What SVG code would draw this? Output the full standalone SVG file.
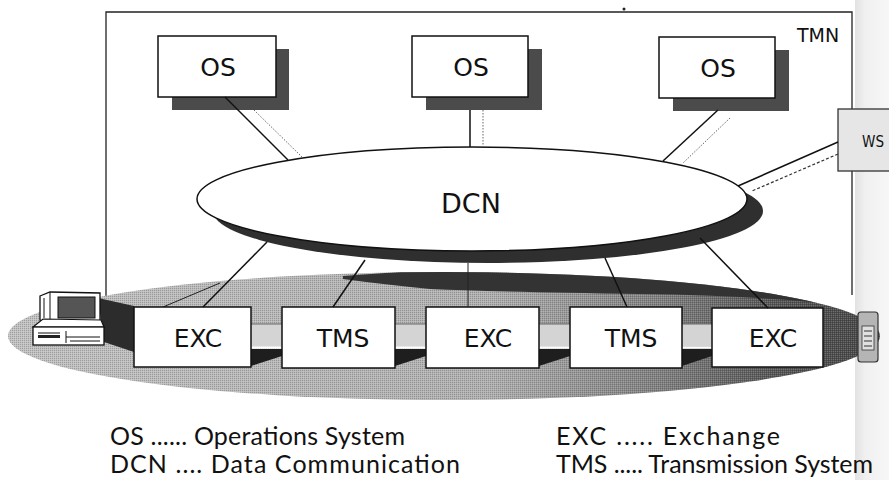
<svg xmlns="http://www.w3.org/2000/svg" width="889" height="480" viewBox="0 0 889 480">
  <defs>
    <style>
      .box{fill:#fff;stroke:#111;stroke-width:1.5}
      .shadow{fill:#4b4b4b}
      .lbl{font-family:"DejaVu Sans","Liberation Sans",sans-serif;fill:#111;text-anchor:middle}
      .legend{font-family:Lato,"Liberation Sans",sans-serif;font-size:25px;fill:#111}
      .link{stroke:#111;stroke-width:1.5;fill:none}
      .thin{stroke:#222;stroke-width:1;fill:none}
      .dotted{stroke:#666;stroke-width:1;stroke-dasharray:1.5 1.5;fill:none}
      .dashed{stroke:#333;stroke-width:1.2;stroke-dasharray:3 2;fill:none}
      .pipe{fill:#d4d4d4}
      .pipeShade{fill:#1e1e1e}
    </style>
    <linearGradient id="plane" x1="0" y1="0" x2="1" y2="0">
      <stop offset="0" stop-color="#c2c2c2"/>
      <stop offset="0.55" stop-color="#b0b0b0"/>
      <stop offset="0.75" stop-color="#808080"/>
      <stop offset="0.88" stop-color="#575757"/>
      <stop offset="1" stop-color="#474747"/>
    </linearGradient>
    <linearGradient id="pageEdge" x1="0" y1="0" x2="1" y2="0">
      <stop offset="0" stop-color="#e2e2e2"/>
      <stop offset="0.3" stop-color="#f0f0f0"/>
      <stop offset="1" stop-color="#f7f7f7"/>
    </linearGradient>
    <!-- halftone screen laid over the shaded plane -->
    <pattern id="screen" width="2" height="2" patternUnits="userSpaceOnUse">
      <rect x="0" y="0" width="1" height="1" fill="#000"/>
      <rect x="1" y="1" width="1" height="1" fill="#fff"/>
    </pattern>
    <clipPath id="planeClip">
      <ellipse cx="444" cy="336" rx="436" ry="64"/>
    </clipPath>
  </defs>

  <rect x="0" y="0" width="889" height="480" fill="#fff"/>
  <rect x="855" y="0" width="34" height="480" fill="url(#pageEdge)"/>

  <!-- TMN boundary -->
  <g id="tmn">
    <path d="M106,298 V12 H852 V295" fill="none" stroke="#222" stroke-width="1.3"/>
    <text class="lbl" x="818" y="42" font-size="19">TMN</text>
    <circle cx="624" cy="9" r="1.5" fill="#222"/>
  </g>

  <!-- network element plane -->
  <g id="plane-base">
    <ellipse cx="444" cy="336" rx="436" ry="64" fill="url(#plane)"/>
    <ellipse cx="444" cy="336" rx="436" ry="64" fill="url(#screen)" opacity="0.18"/>
    <g clip-path="url(#planeClip)">
      <!-- shadow of the DCN cast on the back of the plane -->
      <path d="M343,276 Q520,262 700,266 Q820,272 890,300 L890,312 Q800,296 640,294 Q500,292 430,289 Q380,284 343,279 Z" fill="#333"/>
    </g>
    <!-- shadow left of the first exchange -->
    <path d="M98,298 L134,306 L134,352 L104,342 Z" fill="#2c2c2c"/>
    <path d="M220,283 L163,307" class="thin"/>
  </g>

  <!-- transmission pipes between the exchanges -->
  <g id="pipes">
    <rect class="pipe" x="251" y="324" width="31" height="22"/>
    <rect class="pipe" x="395" y="324" width="31" height="22"/>
    <rect class="pipe" x="539" y="324" width="31" height="22"/>
    <rect class="pipe" x="682" y="324" width="30" height="22"/>
    <path d="M251,324 H282 M395,324 H426 M539,324 H570 M682,324 H712" stroke="#666" stroke-width="1"/>
    <path d="M251,347.5 H282 M395,347.5 H426 M539,347.5 H570 M682,347.5 H712" stroke="#fff" stroke-width="2.5"/>
    <polygon class="pipeShade" points="251,349 282,349 282,356 251,366"/>
    <polygon class="pipeShade" points="395,349 426,349 426,356 395,366"/>
    <polygon class="pipeShade" points="539,349 570,349 570,356 539,366"/>
    <polygon class="pipeShade" points="682,349 712,349 712,356 682,366"/>
  </g>

  <!-- DCN cloud -->
  <g id="dcn">
    <ellipse cx="488" cy="211" rx="275" ry="52" fill="#2f2f2f"/>
    <ellipse cx="472" cy="199" rx="275" ry="52" fill="#fff" stroke="#111" stroke-width="1.5"/>
    <text class="lbl" x="471" y="213" font-size="27">DCN</text>
  </g>

  <!-- operations systems -->
  <g id="os1">
    <rect class="shadow" x="172" y="49" width="117" height="61"/>
    <rect class="box" x="158" y="36" width="118" height="61"/>
    <text class="lbl" x="218" y="76" font-size="25">OS</text>
  </g>
  <g id="os2">
    <rect class="shadow" x="426" y="49" width="116" height="61"/>
    <rect class="box" x="412" y="36" width="116" height="61"/>
    <text class="lbl" x="471" y="76" font-size="25">OS</text>
  </g>
  <g id="os3">
    <rect class="shadow" x="673" y="50" width="116" height="61"/>
    <rect class="box" x="659" y="37" width="116" height="61"/>
    <text class="lbl" x="718" y="77" font-size="25">OS</text>
  </g>

  <!-- workstation -->
  <g id="ws">
    <rect x="838" y="109" width="60" height="62" fill="#e6e6e6" stroke="#333" stroke-width="1.3"/>
    <text x="862" y="147" font-family="'DejaVu Sans','Liberation Sans',sans-serif" font-size="16" fill="#111" textLength="22" lengthAdjust="spacingAndGlyphs">WS</text>
  </g>

  <!-- exchanges and transmission systems -->
  <g id="exc1">
    <rect class="box" x="134" y="307" width="117" height="60"/>
    <text class="lbl" x="198" y="347" font-size="25">EXC</text>
  </g>
  <g id="tms1">
    <rect class="box" x="282" y="307" width="113" height="61"/>
    <text class="lbl" x="343" y="347" font-size="25">TMS</text>
  </g>
  <g id="exc2">
    <rect class="box" x="426" y="307" width="113" height="61"/>
    <text class="lbl" x="488" y="347" font-size="25">EXC</text>
  </g>
  <g id="tms2">
    <rect class="box" x="570" y="307" width="112" height="61"/>
    <text class="lbl" x="631" y="347" font-size="25">TMS</text>
  </g>
  <g id="exc3">
    <rect class="box" x="712" y="308" width="111" height="59"/>
    <text class="lbl" x="773" y="347" font-size="25">EXC</text>
  </g>

  <!-- terminal at the left end of the plane -->
  <g id="terminal">
    <polygon points="40,296 50,292 100,293 100,323 50,324 40,320" fill="#fff" stroke="#111" stroke-width="1.3"/>
    <path d="M50,292 V324 M44,298 V318" stroke="#111" stroke-width="1"/>
    <rect x="58" y="297" width="37" height="21" fill="#555" stroke="#111" stroke-width="1"/>
    <polygon points="33,327 43,319 101,320 104,327" fill="#fff" stroke="#111" stroke-width="1.2"/>
    <rect x="33" y="327" width="71" height="18" fill="#fff" stroke="#111" stroke-width="1.3"/>
    <path d="M38,333 H60 M66,331 V343 M66,337 H100 M70,341 H100" stroke="#111" stroke-width="1"/>
    <rect x="38" y="335" width="22" height="3" fill="#222"/>
  </g>

  <!-- telephone at the right end of the plane -->
  <g id="phone">
    <rect x="858" y="312" width="20" height="50" rx="3" fill="#b5b5b5" stroke="#333" stroke-width="1.2"/>
    <rect x="862" y="326" width="12" height="24" fill="#e0e0e0" stroke="#333" stroke-width="0.8"/>
    <path d="M864,331 H872 M864,336 H872 M864,341 H872 M864,346 H872" stroke="#333" stroke-width="1"/>
  </g>

  <!-- connectors -->
  <g id="connectors">
    <line class="link" x1="225" y1="97" x2="288" y2="160"/>
    <line class="dotted" x1="254" y1="110" x2="302" y2="157"/>
    <line class="link" x1="470" y1="110" x2="470" y2="147"/>
    <line class="dotted" x1="483" y1="110" x2="483" y2="147"/>
    <line class="link" x1="718" y1="110" x2="663" y2="161"/>
    <line class="dotted" x1="730" y1="118" x2="683" y2="163"/>
    <line class="link" x1="838" y1="142" x2="738" y2="186"/>
    <line class="dashed" x1="838" y1="154" x2="752" y2="191"/>
    <line class="link" x1="267" y1="242" x2="203" y2="307"/>
    <line class="link" x1="365" y1="260" x2="333" y2="307"/>
    <line class="thin" x1="468" y1="263" x2="468" y2="307"/>
    <line class="link" x1="605" y1="258" x2="627" y2="307"/>
    <line class="link" x1="700" y1="238" x2="768" y2="308"/>
  </g>

  <!-- legend -->
  <g id="legend">
    <text class="legend" x="110" y="445" textLength="295">OS ...... Operations System</text>
    <text class="legend" x="110" y="473" textLength="350">DCN .... Data Communication</text>
    <text class="legend" x="556" y="445" textLength="224">EXC ..... Exchange</text>
    <text class="legend" x="556" y="473" textLength="317">TMS ..... Transmission System</text>
  </g>
</svg>
